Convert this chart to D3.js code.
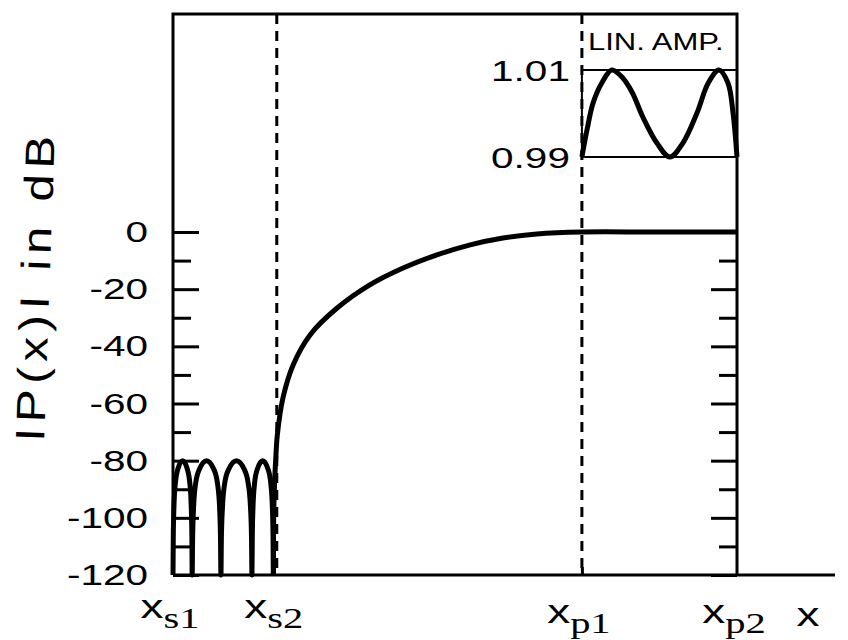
<!DOCTYPE html>
<html>
<head>
<meta charset="utf-8">
<script src="https://cdn.jsdelivr.net/npm/d3@7"></script>
<style>
body { margin: 0; background: #fff; }
svg { display: block; }
text { font-family: "Liberation Sans", Arial, sans-serif; fill: #000; }
</style>
</head>
<body>
<svg id="chart" width="848" height="640"></svg>
<script>
// band edges (x normalised so that xs1 = 0 and xp2 = 1)
var edgeNames = ['s1', 's2', 'p1', 'p2'];
var edgeX = [0, 0.184, 0.725, 1.0];

var dbTicks = [-120, -100, -80, -60, -40, -20, 0];
var dbMinorTicks = [-110, -90, -70, -50, -30, -10];

// stopband ripples
var stopbandX = [
    0, 0.0005, 0.0017, 0.0041, 0.0085, 0.017, 0.0255, 0.0299, 0.0323, 0.0335,
    0.034, 0.0348, 0.0366, 0.0401, 0.0468, 0.0595, 0.0723, 0.0789, 0.0825, 0.0842,
    0.085, 0.0858, 0.0878, 0.0916, 0.0988, 0.1125, 0.1263, 0.1334, 0.1373, 0.1392,
    0.140, 0.1406, 0.1419, 0.1446, 0.1495, 0.159, 0.1685, 0.1734, 0.1761, 0.1774, 0.178
];
var stopbandDb = [
    -120, -107, -96, -88, -83, -80, -83, -88, -96, -107,
    -120, -107, -96, -88, -83, -80, -83, -88, -96, -107,
    -120, -107, -96, -88, -83, -80, -83, -88, -96, -107,
    -120, -107, -96, -88, -83, -80, -83, -88, -96, -107, -120
];

// transition band + flat passband
var transitionX = [0.178, 0.1785, 0.180, 0.182, 0.185, 0.195, 0.213, 0.243, 0.291, 0.349,
    0.408, 0.468, 0.527, 0.585, 0.645, 0.725, 0.85, 1.0];
var transitionDb = [-120, -100, -88, -80, -71, -58, -46.5, -36, -26.6, -18.5,
    -12.6, -8, -4.5, -2.1, -0.7, 0, 0, 0];

// passband detail, linear amplitude
var insetX = [0.725, 0.734, 0.745, 0.761, 0.778, 0.796, 0.814, 0.833, 0.858, 0.881,
    0.904, 0.929, 0.949, 0.968, 0.984, 0.993, 1.0];
var insetAmp = [0.990, 0.9962, 1.0025, 1.0072, 1.010, 1.0084, 1.0049, 0.9992, 0.9932, 0.990,
    0.9932, 1.0001, 1.007, 1.010, 1.007, 1.0001, 0.990];
var insetTicks = [0.99, 1.01];

(function() {
    var svg = d3.select('#chart'),
        left = 173, right = 737, top = 14, bottom = 575, axisEnd = 835,
        stretch = 1.35; // the lettering in the scan is wide

    var x = d3.scaleLinear().domain([0, 1]).range([left, right]),
        y = d3.scaleLinear().domain([-120, 0]).range([bottom, 232]),
        yIn = d3.scaleLinear().domain([0.99, 1.01]).range([157, 70]);

    var wideText = function(px, py, anchor, size) {
        return svg.append('g')
            .attr('transform', 'translate(' + px + ',' + py + ') scale(' + stretch + ',1)')
            .append('text')
            .attr('text-anchor', anchor)
            .style('font-size', size + 'px');
    };

    var curveLine = function(xs, ys, curve) {
        return d3.line()
            .x(function(d) { return xs(d[0]); })
            .y(function(d) { return ys(d[1]); })
            .curve(curve);
    };

    // dashed band-edge lines
    svg.selectAll('line.edge')
        .data([edgeX[1], edgeX[2]])
        .enter().append('line')
        .attr('class', 'edge')
        .attr('x1', function(d) { return x(d); })
        .attr('x2', function(d) { return x(d); })
        .attr('y1', top).attr('y2', bottom)
        .attr('stroke', '#000').attr('stroke-width', 3)
        .attr('stroke-dasharray', '10,7');

    // ticks on both sides, pointing inwards
    var styleTicks = function(g) {
        g.select('.domain').remove();
        g.selectAll('.tick line').attr('stroke', '#000').attr('stroke-width', 3);
    };

    var leftAxis = svg.append('g')
        .attr('transform', 'translate(' + left + ',0)')
        .call(d3.axisLeft(y).tickValues(dbTicks).tickSize(-26).tickPadding(25)
            .tickFormat(function(d) { return String(d); }))
        .call(styleTicks);
    leftAxis.selectAll('.tick text')
        .attr('x', -25 / stretch)
        .attr('transform', 'scale(' + stretch + ',1)')
        .style('font-size', '30px')
        .style('font-family', '"Liberation Sans", Arial, sans-serif')
        .attr('fill', '#000');

    svg.append('g')
        .attr('transform', 'translate(' + left + ',0)')
        .call(d3.axisLeft(y).tickValues(dbMinorTicks).tickSize(-18).tickFormat(''))
        .call(styleTicks);

    svg.append('g')
        .attr('transform', 'translate(' + right + ',0)')
        .call(d3.axisRight(y).tickValues(dbTicks).tickSize(-26).tickFormat(''))
        .call(styleTicks);
    svg.append('g')
        .attr('transform', 'translate(' + right + ',0)')
        .call(d3.axisRight(y).tickValues(dbMinorTicks).tickSize(-18).tickFormat(''))
        .call(styleTicks);

    svg.append('g')
        .attr('transform', 'translate(0,' + bottom + ')')
        .call(d3.axisBottom(x).tickValues([edgeX[2]]).tickSize(-8).tickFormat(''))
        .call(styleTicks);

    // frame
    svg.append('path')
        .attr('d', 'M' + left + ',' + bottom + 'V' + top + 'H' + right + 'V' + bottom)
        .attr('fill', 'none').attr('stroke', '#000').attr('stroke-width', 3);
    svg.append('line')
        .attr('x1', left).attr('x2', axisEnd)
        .attr('y1', bottom).attr('y2', bottom)
        .attr('stroke', '#000').attr('stroke-width', 3);

    // response curve: stopband lobes, then transition and passband
    svg.append('path')
        .datum(d3.zip(stopbandX, stopbandDb))
        .attr('d', curveLine(x, y, d3.curveMonotoneX))
        .attr('fill', 'none').attr('stroke', '#000').attr('stroke-width', 5)
        .attr('stroke-linejoin', 'round');
    svg.append('path')
        .datum(d3.zip(transitionX, transitionDb))
        .attr('d', curveLine(x, y, d3.curveCatmullRom.alpha(0.5)))
        .attr('fill', 'none').attr('stroke', '#000').attr('stroke-width', 5)
        .attr('stroke-linejoin', 'round');

    // inset: linear amplitude in the passband
    svg.append('rect')
        .attr('x', x(edgeX[2])).attr('y', yIn(1.01))
        .attr('width', x(edgeX[3]) - x(edgeX[2]))
        .attr('height', yIn(0.99) - yIn(1.01))
        .attr('fill', 'none').attr('stroke', '#000').attr('stroke-width', 2);

    svg.append('path')
        .datum(d3.zip(insetX, insetAmp))
        .attr('d', curveLine(x, yIn, d3.curveCatmullRom.alpha(0.5)))
        .attr('fill', 'none').attr('stroke', '#000').attr('stroke-width', 5)
        .attr('stroke-linejoin', 'round');

    insetTicks.forEach(function(v) {
        wideText(x(edgeX[2]) - 12, yIn(v), 'end', 30)
            .attr('dy', '0.35em')
            .text(d3.format('.2f')(v));
    });

    wideText(x(edgeX[2]) + 6, 50, 'start', 23).text('LIN. AMP.');

    // x labels
    edgeNames.forEach(function(name, i) {
        var t = wideText(x(edgeX[i]) - 3, i < 2 ? 618 : 623, 'middle', 34);
        t.append('tspan').text('x');
        t.append('tspan')
            .attr('dy', 10)
            .style('font-family', '"Liberation Serif", "Times New Roman", serif')
            .style('font-size', '30px')
            .text(name);
    });
    wideText(axisEnd - 27, 626, 'middle', 34).text('x');

    // y title
    svg.append('text')
        .attr('transform', 'translate(44,442) rotate(-88) scale(1.2,1)')
        .attr('textLength', 255)
        .attr('lengthAdjust', 'spacing')
        .style('font-size', '41px')
        .text('IP(x)I in dB');
})();
</script>
</body>
</html>
